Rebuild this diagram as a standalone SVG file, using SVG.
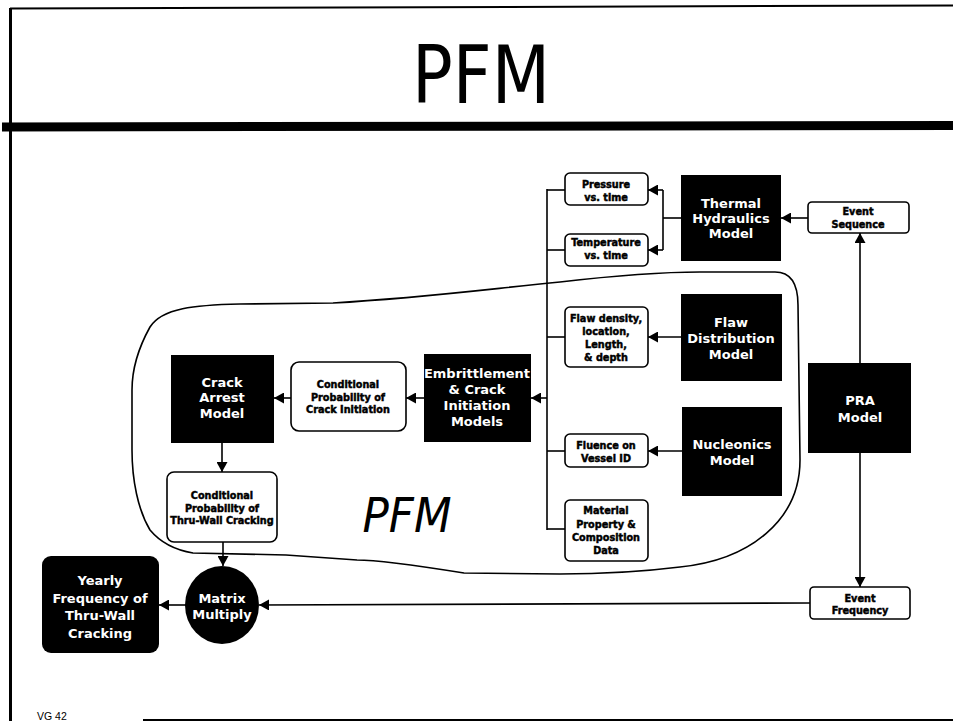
<svg xmlns="http://www.w3.org/2000/svg" width="953" height="721" viewBox="0 0 953 721">
  <defs>
    <marker id="arr" markerUnits="userSpaceOnUse" markerWidth="10" markerHeight="11" refX="10" refY="5.5" orient="auto">
      <path d="M0,0 L10,5.5 L0,11 Z" fill="#000"/>
    </marker>
  </defs>
  <style>
    .wbox{fill:#fff;stroke:#000;stroke-width:1.6}
    .bbox{fill:#000}
    .wt{font-family:"DejaVu Sans",Verdana,sans-serif;font-weight:bold;fill:#fff;text-anchor:middle;font-size:13px}
    .st{font-family:"DejaVu Sans",Verdana,sans-serif;font-weight:bold;fill:#000;stroke:#000;stroke-width:0.45;text-anchor:middle;font-size:9.7px}
    .conn line,.conn path{stroke:#000;stroke-width:1.6;fill:none}
  </style>

  <rect width="953" height="721" fill="#fff"/>

  <!-- slide frame -->
  <g id="frame" stroke="#000" fill="none">
    <line x1="10" y1="8.5" x2="953" y2="5.5" stroke-width="2"/>
    <line x1="10.5" y1="8" x2="10.5" y2="721" stroke-width="3"/>
    <line x1="2" y1="127" x2="953" y2="125.5" stroke-width="9"/>
    <line x1="143" y1="720" x2="953" y2="720" stroke-width="2"/>
  </g>
  <text x="481" y="103" font-family="'DejaVu Sans',Tahoma,sans-serif" font-size="80" textLength="138" lengthAdjust="spacingAndGlyphs" text-anchor="middle" fill="#000">PFM</text>
  <text x="37" y="720" font-family="'Liberation Sans',Arial,sans-serif" font-size="10.5" fill="#000">VG 42</text>

  <!-- PFM boundary -->
  <path id="pfm-region" d="M150,327 C162,308 195,305 240,304 L333,303 C420,298 480,290 560,282 C620,275 660,272 700,272 L775,272 C792,272 798,285 798,305 L800,460 C800,520 750,560 680,567 C640,572 600,574 560,574 L464,573 C420,566 380,560 357,560 L286,555 L193,553 C175,550 160,542 150,530 C138,510 132,480 132,450 L132,390 C132,365 140,345 150,327 Z" fill="none" stroke="#000" stroke-width="1.6"/>
  <text x="407" y="532" font-family="'DejaVu Sans',Tahoma,sans-serif" font-style="italic" font-size="48" textLength="89" lengthAdjust="spacingAndGlyphs" text-anchor="middle" fill="#000">PFM</text>

  <!-- connectors -->
  <g class="conn">
    <line x1="808" y1="218" x2="781" y2="218" marker-end="url(#arr)"/>
    <line x1="681" y1="218" x2="663" y2="218"/>
    <line x1="663" y1="190" x2="663" y2="250"/>
    <line x1="663" y1="190" x2="648" y2="190" marker-end="url(#arr)"/>
    <line x1="663" y1="250" x2="648" y2="250" marker-end="url(#arr)"/>
    <line x1="681" y1="337" x2="648" y2="337" marker-end="url(#arr)"/>
    <line x1="682" y1="451" x2="648" y2="451" marker-end="url(#arr)"/>
    <line x1="547" y1="189" x2="547" y2="530"/>
    <line x1="547" y1="190" x2="565" y2="190"/>
    <line x1="547" y1="250" x2="565" y2="250"/>
    <line x1="547" y1="337" x2="565" y2="337"/>
    <line x1="547" y1="451" x2="565" y2="451"/>
    <line x1="547" y1="529" x2="565" y2="529"/>
    <line x1="547" y1="398" x2="531" y2="398" marker-end="url(#arr)"/>
    <line x1="424" y1="398" x2="406" y2="398" marker-end="url(#arr)"/>
    <line x1="291" y1="398" x2="274" y2="398" marker-end="url(#arr)"/>
    <line x1="222" y1="443" x2="222" y2="472" marker-end="url(#arr)"/>
    <line x1="223" y1="542" x2="223" y2="566" marker-end="url(#arr)"/>
    <line x1="860" y1="363" x2="860" y2="233" marker-end="url(#arr)"/>
    <line x1="860" y1="453" x2="860" y2="587" marker-end="url(#arr)"/>
    <line x1="810" y1="603" x2="259" y2="605" marker-end="url(#arr)"/>
    <line x1="186" y1="605" x2="159" y2="605" marker-end="url(#arr)"/>
  </g>

  <!-- input boxes -->
  <g id="pressure">
    <rect class="wbox" x="565" y="173" width="83" height="32" rx="5"/>
    <text class="st" x="606" y="188">Pressure</text>
    <text class="st" x="606" y="201">vs. time</text>
  </g>
  <g id="temperature">
    <rect class="wbox" x="565" y="234" width="83" height="32" rx="5"/>
    <text class="st" x="606" y="246">Temperature</text>
    <text class="st" x="606" y="259">vs. time</text>
  </g>
  <g id="flaw-data">
    <rect class="wbox" x="565" y="307" width="83" height="60" rx="5"/>
    <text class="st" x="606" y="322">Flaw density,</text>
    <text class="st" x="606" y="335">location,</text>
    <text class="st" x="606" y="348">Length,</text>
    <text class="st" x="606" y="361">&amp; depth</text>
  </g>
  <g id="fluence">
    <rect class="wbox" x="565" y="434" width="83" height="33" rx="5"/>
    <text class="st" x="606" y="449">Fluence on</text>
    <text class="st" x="606" y="462">Vessel ID</text>
  </g>
  <g id="material">
    <rect class="wbox" x="565" y="500" width="83" height="61" rx="5"/>
    <text class="st" x="606" y="514">Material</text>
    <text class="st" x="606" y="527.5">Property &amp;</text>
    <text class="st" x="606" y="541">Composition</text>
    <text class="st" x="606" y="554">Data</text>
  </g>
  <g id="event-sequence">
    <rect class="wbox" x="808" y="202" width="101" height="31" rx="4"/>
    <text class="st" x="858" y="215">Event</text>
    <text class="st" x="858" y="228">Sequence</text>
  </g>
  <g id="event-frequency">
    <rect class="wbox" x="810" y="587" width="100" height="32" rx="4"/>
    <text class="st" x="860" y="602">Event</text>
    <text class="st" x="860" y="614">Frequency</text>
  </g>
  <g id="cp-initiation">
    <rect class="wbox" x="291" y="362" width="115" height="69" rx="8"/>
    <text class="st" x="348" y="388">Conditional</text>
    <text class="st" x="348" y="400.5">Probability of</text>
    <text class="st" x="348" y="413">Crack Initiation</text>
  </g>
  <g id="cp-thruwall">
    <rect class="wbox" x="167" y="472" width="110" height="70" rx="7"/>
    <text class="st" x="222" y="499">Conditional</text>
    <text class="st" x="222" y="511.5">Probability of</text>
    <text class="st" x="222" y="524" font-size="10">Thru-Wall Cracking</text>
  </g>

  <!-- models -->
  <g id="thermal-hydraulics">
    <rect class="bbox" x="681" y="175" width="100" height="86"/>
    <text class="wt" x="731" y="208">Thermal</text>
    <text class="wt" x="731" y="223">Hydraulics</text>
    <text class="wt" x="731" y="238">Model</text>
  </g>
  <g id="flaw-distribution">
    <rect class="bbox" x="681" y="294" width="101" height="87"/>
    <text class="wt" x="731" y="327">Flaw</text>
    <text class="wt" x="731" y="343">Distribution</text>
    <text class="wt" x="731" y="359">Model</text>
  </g>
  <g id="nucleonics">
    <rect class="bbox" x="682" y="407" width="100" height="89"/>
    <text class="wt" x="732" y="449">Nucleonics</text>
    <text class="wt" x="732" y="465">Model</text>
  </g>
  <g id="pra">
    <rect class="bbox" x="808" y="363" width="103" height="90"/>
    <text class="wt" x="860" y="405">PRA</text>
    <text class="wt" x="860" y="422">Model</text>
  </g>
  <g id="embrittlement">
    <rect class="bbox" x="424" y="354" width="107" height="88"/>
    <text class="wt" x="477" y="378">Embrittlement</text>
    <text class="wt" x="477" y="394">&amp; Crack</text>
    <text class="wt" x="477" y="410">Initiation</text>
    <text class="wt" x="477" y="426">Models</text>
  </g>
  <g id="crack-arrest">
    <rect class="bbox" x="171" y="355" width="103" height="88"/>
    <text class="wt" x="222" y="387">Crack</text>
    <text class="wt" x="222" y="402">Arrest</text>
    <text class="wt" x="222" y="418">Model</text>
  </g>
  <g id="matrix-multiply">
    <ellipse class="bbox" cx="222" cy="605" rx="37" ry="39"/>
    <text class="wt" x="222" y="603" font-size="12.5">Matrix</text>
    <text class="wt" x="222" y="619" font-size="12.5">Multiply</text>
  </g>
  <g id="yearly-frequency">
    <rect class="bbox" x="42" y="556" width="117" height="97" rx="9"/>
    <text class="wt" x="100" y="585" font-size="14">Yearly</text>
    <text class="wt" x="100" y="602.5" font-size="14">Frequency of</text>
    <text class="wt" x="100" y="620" font-size="14">Thru-Wall</text>
    <text class="wt" x="100" y="637.5" font-size="14">Cracking</text>
  </g>
</svg>
